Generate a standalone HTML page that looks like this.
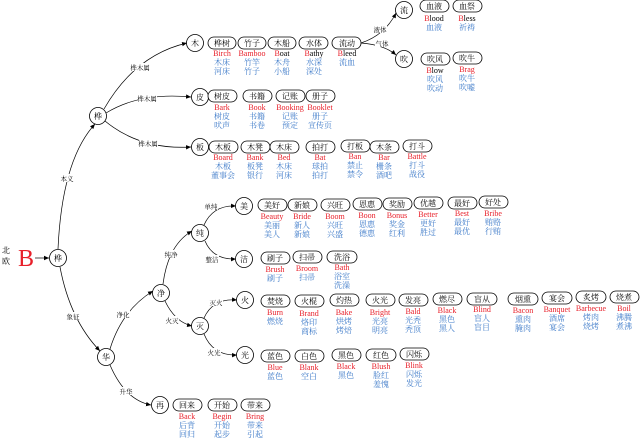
<!DOCTYPE html>
<html><head><meta charset="utf-8"><style>
html,body{margin:0;padding:0;background:#fff;width:640px;height:440px;overflow:hidden}
svg{display:block}
text{font-family:"Liberation Serif","Noto Serif CJK SC",serif;text-anchor:middle}
.n{font-size:8px;fill:#000}
.r{font-size:8px;fill:#e8202a}
.b{font-size:8px;fill:#3a78c8}
.e{font-size:6.5px;fill:#000}
.k{fill:#000}
rect{fill:#fff;stroke:#000;stroke-width:0.8}
circle{fill:#fff;stroke:#000;stroke-width:0.8}
path{fill:none;stroke:#000;stroke-width:0.7}
</style></head><body>
<svg width="640" height="440" viewBox="0 0 640 440" xmlns="http://www.w3.org/2000/svg">
<defs><marker id="a" markerWidth="6" markerHeight="6" refX="5" refY="3" orient="auto" markerUnits="userSpaceOnUse"><path d="M0,0.8 L5,3 L0,5.2 Z" style="fill:#000;stroke:none"/></marker></defs>

<!-- edges -->
<path d="M35,258 L49,258" marker-end="url(#a)"/>
<path d="M58,249 Q62,160 95,124" marker-end="url(#a)"/>
<path d="M104,109 Q135,55 187,43" marker-end="url(#a)"/>
<path d="M106,113 Q140,92 191,97" marker-end="url(#a)"/>
<path d="M105,121 Q140,150 191,147" marker-end="url(#a)"/>
<path d="M60,267 Q70,320 100,351" marker-end="url(#a)"/>
<path d="M110,349 Q122,310 153,291" marker-end="url(#a)"/>
<path d="M110,365 Q125,400 151,405" marker-end="url(#a)"/>
<path d="M163,284 Q168,245 192,231" marker-end="url(#a)"/>
<path d="M165,301 Q175,322 192,326" marker-end="url(#a)"/>
<path d="M204,225 Q213,205 236,206" marker-end="url(#a)"/>
<path d="M205,241 Q213,260 236,259" marker-end="url(#a)"/>
<path d="M204,318 Q213,298 237,300" marker-end="url(#a)"/>
<path d="M204,334 Q213,356 237,355" marker-end="url(#a)"/>
<path d="M361,43 Q385,35 396,13" marker-end="url(#a)"/>
<path d="M361,43 Q385,45 396,55" marker-end="url(#a)"/>

<!-- edge labels -->
<g class="e">
<rect x="131" y="63" width="19" height="8" style="stroke:none"/><text x="140" y="70" class="e">桦木属</text>
<rect x="138" y="94" width="19" height="8" style="stroke:none"/><text x="147" y="101" class="e">桦木属</text>
<rect x="139" y="139" width="19" height="8" style="stroke:none"/><text x="148" y="146" class="e">桦木属</text>
<rect x="60" y="174" width="14" height="8" style="stroke:none"/><text x="67" y="181" class="e">本义</text>
<rect x="66" y="312" width="14" height="8" style="stroke:none"/><text x="73" y="319" class="e">象征</text>
<rect x="116" y="310" width="14" height="8" style="stroke:none"/><text x="123" y="317" class="e">净化</text>
<rect x="119" y="387" width="14" height="8" style="stroke:none"/><text x="126" y="394" class="e">升华</text>
<rect x="164" y="250" width="14" height="8" style="stroke:none"/><text x="171" y="257" class="e">纯净</text>
<rect x="204" y="202" width="14" height="8" style="stroke:none"/><text x="211" y="209" class="e">单纯</text>
<rect x="205" y="255" width="14" height="8" style="stroke:none"/><text x="212" y="262" class="e">整洁</text>
<rect x="209" y="298" width="14" height="8" style="stroke:none"/><text x="216" y="305" class="e">灭火</text>
<rect x="165" y="316" width="14" height="8" style="stroke:none"/><text x="172" y="323" class="e">火灭</text>
<rect x="207" y="348" width="14" height="8" style="stroke:none"/><text x="214" y="355" class="e">火光</text>
<rect x="373" y="25" width="14" height="8" style="stroke:none"/><text x="380" y="32" class="e">液体</text>
<rect x="375" y="39" width="14" height="8" style="stroke:none"/><text x="382" y="46" class="e">气体</text>
</g>

<!-- root -->
<text x="6" y="253" class="n" style="font-size:8px">北</text>
<text x="6" y="264" class="n" style="font-size:8px">欧</text>
<text x="26" y="266" style="font-size:24px;fill:#e8202a">B</text>

<!-- circles -->
<g>
<circle cx="58" cy="258" r="8.5"/><text x="58" y="261" class="n">桦</text>
<circle cx="98" cy="116" r="8.5"/><text x="98" y="119" class="n">桦</text>
<circle cx="106" cy="357" r="8.5"/><text x="106" y="360" class="n">华</text>
<circle cx="195" cy="43" r="8.5"/><text x="195" y="46" class="n">木</text>
<circle cx="200" cy="97" r="8.5"/><text x="200" y="100" class="n">皮</text>
<circle cx="200" cy="147" r="8.5"/><text x="200" y="150" class="n">板</text>
<circle cx="404" cy="10" r="8.5"/><text x="404" y="13" class="n">流</text>
<circle cx="404" cy="59" r="8.5"/><text x="404" y="62" class="n">吹</text>
<circle cx="200" cy="233" r="8.5"/><text x="200" y="236" class="n">纯</text>
<circle cx="161" cy="293" r="8.5"/><text x="161" y="296" class="n">净</text>
<circle cx="200" cy="326" r="8.5"/><text x="200" y="329" class="n">灭</text>
<circle cx="160" cy="405" r="8.5"/><text x="160" y="408" class="n">再</text>
<circle cx="244" cy="206" r="8.5"/><text x="244" y="209" class="n">美</text>
<circle cx="244" cy="259" r="8.5"/><text x="244" y="262" class="n">洁</text>
<circle cx="245" cy="300" r="8.5"/><text x="245" y="303" class="n">火</text>
<circle cx="245" cy="355" r="8.5"/><text x="245" y="358" class="n">光</text>
</g>

<!-- row 木 -->
<g>
<rect x="208" y="37" width="28" height="12" rx="6"/><text x="222" y="46" class="n">桦树</text><text x="222" y="56" class="r">Birch</text><text x="222" y="65" class="b">木床</text><text x="222" y="74" class="b">河床</text>
<rect x="238" y="37" width="28" height="12" rx="6"/><text x="252" y="46" class="n">竹子</text><text x="252" y="56" class="r">Bamboo</text><text x="252" y="65" class="b">竹竿</text><text x="252" y="74" class="b">竹子</text>
<rect x="268" y="37" width="28" height="12" rx="6"/><text x="282" y="46" class="n">木船</text><text x="282" y="56" class="r">B<tspan class="k">oat</tspan></text><text x="282" y="65" class="b">木舟</text><text x="282" y="74" class="b">小船</text>
<rect x="299" y="37" width="29" height="12" rx="6"/><text x="314" y="46" class="n">水体</text><text x="314" y="56" class="r">B<tspan class="k">athy</tspan></text><text x="314" y="65" class="b">水深</text><text x="314" y="74" class="b">深处</text>
<rect x="332" y="37" width="29" height="12" rx="6"/><text x="347" y="46" class="n">流动</text><text x="347" y="56" class="r">B<tspan class="k">leed</tspan></text><text x="347" y="65" class="b">流血</text>
</g>
<!-- 流 / 吹 -->
<g>
<rect x="420" y="0" width="29" height="12" rx="6"/><text x="434" y="9" class="n">血液</text><text x="434" y="21" class="r">B<tspan class="k">lood</tspan></text><text x="434" y="30" class="b">血液</text>
<rect x="453" y="0" width="29" height="12" rx="6"/><text x="467" y="9" class="n">血祭</text><text x="467" y="21" class="r">B<tspan class="k">less</tspan></text><text x="467" y="30" class="b">祈祷</text>
<rect x="421" y="53" width="29" height="12" rx="6"/><text x="435" y="62" class="n">吹风</text><text x="435" y="73" class="r">B<tspan class="k">low</tspan></text><text x="435" y="82" class="b">吹风</text><text x="435" y="91" class="b">吹动</text>
<rect x="453" y="52" width="29" height="12" rx="6"/><text x="467" y="61" class="n">吹牛</text><text x="467" y="72" class="r">Brag</text><text x="467" y="81" class="b">吹牛</text><text x="467" y="90" class="b">吹嘘</text>
</g>
<!-- 皮 row -->
<g>
<rect x="208" y="90" width="29" height="12" rx="6"/><text x="222" y="99" class="n">树皮</text><text x="222" y="110" class="r">Bark</text><text x="222" y="119" class="b">树皮</text><text x="222" y="128" class="b">吠声</text>
<rect x="243" y="90" width="29" height="12" rx="6"/><text x="257" y="99" class="n">书籍</text><text x="257" y="110" class="r">Book</text><text x="257" y="119" class="b">书籍</text><text x="257" y="128" class="b">书卷</text>
<rect x="276" y="90" width="29" height="12" rx="6"/><text x="290" y="99" class="n">记账</text><text x="290" y="110" class="r">Booking</text><text x="290" y="119" class="b">记账</text><text x="290" y="128" class="b">预定</text>
<rect x="306" y="90" width="29" height="12" rx="6"/><text x="320" y="99" class="n">册子</text><text x="320" y="110" class="r">Booklet</text><text x="320" y="119" class="b">册子</text><text x="320" y="128" class="b">宣传页</text>
</g>
<!-- 板 row -->
<g>
<rect x="209" y="141" width="29" height="12" rx="6"/><text x="223" y="150" class="n">木板</text><text x="223" y="160" class="r">Board</text><text x="223" y="169" class="b">木板</text><text x="223" y="178" class="b">董事会</text>
<rect x="241" y="141" width="29" height="12" rx="6"/><text x="255" y="150" class="n">木凳</text><text x="255" y="160" class="r">Bank</text><text x="255" y="169" class="b">板凳</text><text x="255" y="178" class="b">银行</text>
<rect x="270" y="141" width="29" height="12" rx="6"/><text x="284" y="150" class="n">木床</text><text x="284" y="160" class="r">Bed</text><text x="284" y="169" class="b">木床</text><text x="284" y="178" class="b">河床</text>
<rect x="306" y="141" width="29" height="12" rx="6"/><text x="320" y="150" class="n">拍打</text><text x="320" y="160" class="r">Bat</text><text x="320" y="169" class="b">球拍</text><text x="320" y="178" class="b">拍打</text>
<rect x="341" y="140" width="29" height="12" rx="6"/><text x="355" y="149" class="n">打板</text><text x="355" y="159" class="r">Ban</text><text x="355" y="168" class="b">禁止</text><text x="355" y="177" class="b">禁令</text>
<rect x="370" y="141" width="29" height="12" rx="6"/><text x="384" y="150" class="n">木条</text><text x="384" y="160" class="r">Bar</text><text x="384" y="169" class="b">栅条</text><text x="384" y="178" class="b">酒吧</text>
<rect x="403" y="140" width="29" height="12" rx="6"/><text x="417" y="149" class="n">打斗</text><text x="417" y="159" class="r">Battle</text><text x="417" y="168" class="b">打斗</text><text x="417" y="177" class="b">战役</text>
</g>
<!-- 美 row -->
<g>
<rect x="258" y="199" width="29" height="12" rx="6"/><text x="272" y="208" class="n">美好</text><text x="272" y="219" class="r">Beauty</text><text x="272" y="228" class="b">美丽</text><text x="272" y="237" class="b">美人</text>
<rect x="288" y="199" width="29" height="12" rx="6"/><text x="302" y="208" class="n">新娘</text><text x="302" y="219" class="r">Bride</text><text x="302" y="228" class="b">新人</text><text x="302" y="237" class="b">新娘</text>
<rect x="321" y="199" width="29" height="12" rx="6"/><text x="335" y="208" class="n">兴旺</text><text x="335" y="219" class="r">Boom</text><text x="335" y="228" class="b">兴旺</text><text x="335" y="237" class="b">兴盛</text>
<rect x="353" y="198" width="29" height="12" rx="6"/><text x="367" y="207" class="n">恩惠</text><text x="367" y="218" class="r">Boon</text><text x="367" y="227" class="b">恩惠</text><text x="367" y="236" class="b">德惠</text>
<rect x="383" y="198" width="29" height="12" rx="6"/><text x="397" y="207" class="n">奖励</text><text x="397" y="218" class="r">Bonus</text><text x="397" y="227" class="b">奖金</text><text x="397" y="236" class="b">红利</text>
<rect x="414" y="197" width="29" height="12" rx="6"/><text x="428" y="206" class="n">优越</text><text x="428" y="217" class="r">Better</text><text x="428" y="226" class="b">更好</text><text x="428" y="235" class="b">胜过</text>
<rect x="448" y="197" width="29" height="12" rx="6"/><text x="462" y="206" class="n">最好</text><text x="462" y="216" class="r">Best</text><text x="462" y="225" class="b">最好</text><text x="462" y="234" class="b">最优</text>
<rect x="479" y="196" width="29" height="12" rx="6"/><text x="493" y="205" class="n">好处</text><text x="493" y="216" class="r">Bribe</text><text x="493" y="225" class="b">贿赂</text><text x="493" y="234" class="b">行贿</text>
</g>
<!-- 洁 row -->
<g>
<rect x="261" y="252" width="29" height="12" rx="6"/><text x="275" y="261" class="n">刷子</text><text x="275" y="272" class="r">Brush</text><text x="275" y="281" class="b">刷子</text>
<rect x="293" y="251" width="29" height="12" rx="6"/><text x="307" y="260" class="n">扫帚</text><text x="307" y="271" class="r">Broom</text><text x="307" y="280" class="b">扫帚</text>
<rect x="327" y="251" width="30" height="12" rx="6"/><text x="342" y="260" class="n">洗浴</text><text x="342" y="270" class="r">Bath</text><text x="342" y="279" class="b">浴室</text><text x="342" y="288" class="b">洗澡</text>
</g>
<!-- 火 row -->
<g>
<rect x="261" y="295" width="29" height="12" rx="6"/><text x="275" y="304" class="n">焚烧</text><text x="275" y="315" class="r">Burn</text><text x="275" y="324" class="b">燃烧</text>
<rect x="295" y="295" width="29" height="12" rx="6"/><text x="309" y="304" class="n">火棍</text><text x="309" y="316" class="r">Brand</text><text x="309" y="325" class="b">烙印</text><text x="309" y="334" class="b">商标</text>
<rect x="330" y="294" width="29" height="12" rx="6"/><text x="344" y="303" class="n">灼热</text><text x="344" y="315" class="r">Bake</text><text x="344" y="324" class="b">烘烤</text><text x="344" y="333" class="b">烤焙</text>
<rect x="366" y="294" width="29" height="12" rx="6"/><text x="380" y="303" class="n">火光</text><text x="380" y="315" class="r">Bright</text><text x="380" y="324" class="b">光亮</text><text x="380" y="333" class="b">明亮</text>
<rect x="399" y="294" width="29" height="12" rx="6"/><text x="413" y="303" class="n">发亮</text><text x="413" y="314" class="r">Bald</text><text x="413" y="323" class="b">光秃</text><text x="413" y="332" class="b">秃顶</text>
<rect x="433" y="293" width="29" height="12" rx="6"/><text x="447" y="302" class="n">燃尽</text><text x="447" y="313" class="r">Black</text><text x="447" y="322" class="b">黑色</text><text x="447" y="331" class="b">黑人</text>
<rect x="467" y="293" width="30" height="12" rx="6"/><text x="482" y="302" class="n">盲从</text><text x="482" y="312" class="r">Blind</text><text x="482" y="321" class="b">盲人</text><text x="482" y="330" class="b">盲目</text>
<rect x="508" y="293" width="30" height="12" rx="6"/><text x="523" y="302" class="n">烟熏</text><text x="523" y="313" class="r">Bacon</text><text x="523" y="322" class="b">熏肉</text><text x="523" y="331" class="b">腌肉</text>
<rect x="542" y="292" width="30" height="12" rx="6"/><text x="557" y="301" class="n">宴会</text><text x="557" y="312" class="r">Banquet</text><text x="557" y="321" class="b">酒席</text><text x="557" y="330" class="b">宴会</text>
<rect x="576" y="291" width="30" height="12" rx="6"/><text x="591" y="300" class="n">炙烤</text><text x="591" y="311" class="r">Barbecue</text><text x="591" y="320" class="b">烤肉</text><text x="591" y="329" class="b">烧烤</text>
<rect x="610" y="291" width="29" height="12" rx="6"/><text x="624" y="300" class="n">烧煮</text><text x="624" y="311" class="r">Boil</text><text x="624" y="320" class="b">沸腾</text><text x="624" y="329" class="b">煮沸</text>
</g>
<!-- 光 row -->
<g>
<rect x="261" y="350" width="29" height="12" rx="6"/><text x="275" y="359" class="n">蓝色</text><text x="275" y="370" class="r">Blue</text><text x="275" y="379" class="b">蓝色</text>
<rect x="295" y="350" width="29" height="12" rx="6"/><text x="309" y="359" class="n">白色</text><text x="309" y="370" class="r">Blank</text><text x="309" y="379" class="b">空白</text>
<rect x="332" y="349" width="29" height="12" rx="6"/><text x="346" y="358" class="n">黑色</text><text x="346" y="369" class="r">Black</text><text x="346" y="378" class="b">黑色</text>
<rect x="366" y="349" width="30" height="12" rx="6"/><text x="381" y="358" class="n">红色</text><text x="381" y="369" class="r">Blush</text><text x="381" y="378" class="b">脸红</text><text x="381" y="387" class="b">羞愧</text>
<rect x="400" y="348" width="29" height="12" rx="6"/><text x="414" y="357" class="n">闪烁</text><text x="414" y="368" class="r">Blink</text><text x="414" y="377" class="b">闪烁</text><text x="414" y="386" class="b">发光</text>
</g>
<!-- 再 row -->
<g>
<rect x="173" y="399" width="29" height="12" rx="6"/><text x="187" y="408" class="n">回来</text><text x="187" y="419" class="r">Back</text><text x="187" y="428" class="b">后背</text><text x="187" y="437" class="b">回归</text>
<rect x="208" y="399" width="29" height="12" rx="6"/><text x="222" y="408" class="n">开始</text><text x="222" y="419" class="r">Begin</text><text x="222" y="428" class="b">开始</text><text x="222" y="437" class="b">起步</text>
<rect x="241" y="399" width="29" height="12" rx="6"/><text x="255" y="408" class="n">带来</text><text x="255" y="419" class="r">Bring</text><text x="255" y="428" class="b">带来</text><text x="255" y="437" class="b">引起</text>
</g>
</svg>
</body></html>
